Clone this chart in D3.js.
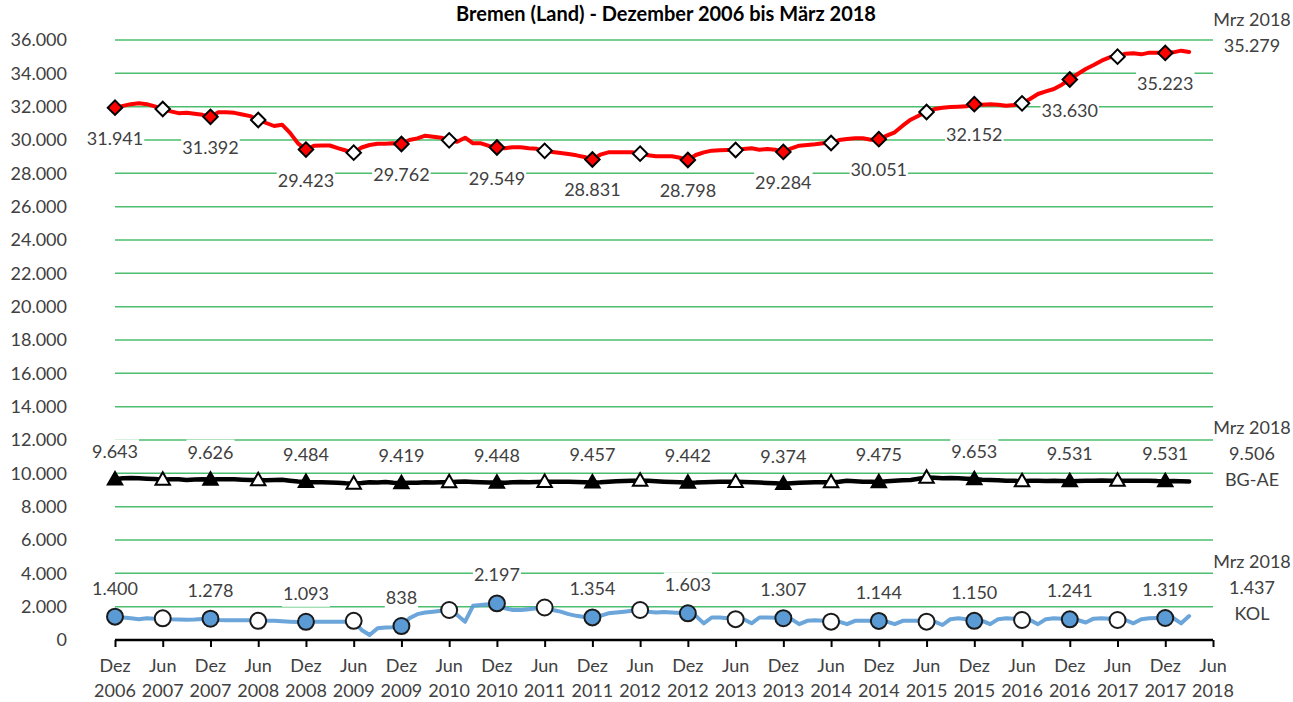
<!DOCTYPE html>
<html>
<head>
<meta charset="utf-8">
<script src="https://cdn.jsdelivr.net/npm/d3@7/dist/d3.min.js"></script>
<style>
  body { margin: 0; background: #fff; }
  text { font-family: Lato, "Liberation Sans", sans-serif; }
</style>
</head>
<body>
<script>
var title = 'Bremen (Land) - Dezember 2006 bis März 2018';
var endDate = 'Mrz 2018';
var yTicks = [0, 2000, 4000, 6000, 8000, 10000, 12000, 14000, 16000, 18000, 20000,
  22000, 24000, 26000, 28000, 30000, 32000, 34000, 36000];
var tickMonths = ['Dez', 'Jun', 'Dez', 'Jun', 'Dez', 'Jun', 'Dez', 'Jun', 'Dez', 'Jun', 'Dez', 'Jun',
  'Dez', 'Jun', 'Dez', 'Jun', 'Dez', 'Jun', 'Dez', 'Jun', 'Dez', 'Jun', 'Dez', 'Jun'];
var tickYears = ['2006', '2007', '2007', '2008', '2008', '2009', '2009', '2010', '2010', '2011', '2011', '2012',
  '2012', '2013', '2013', '2014', '2014', '2015', '2015', '2016', '2016', '2017', '2017', '2018'];

// monthly values, Dez 2006 .. Mrz 2018
var bremen = [
  31941, 32050, 32150, 32200, 32150, 32020, 31860, 31720, 31610, 31630, 31570, 31510,
  31392, 31670, 31670, 31630, 31530, 31430, 31200, 31020, 30840, 30920, 30430, 29800,
  29423, 29650, 29670, 29670, 29510, 29370, 29240, 29550, 29700, 29770, 29770, 29800,
  29762, 30000, 30100, 30260, 30200, 30140, 29980, 29900, 30140, 29800, 29800, 29650,
  29549, 29510, 29570, 29570, 29510, 29470, 29350, 29280, 29220, 29160, 29080, 28980,
  28831, 29120, 29260, 29260, 29260, 29260, 29180, 29080, 29020, 29020, 29020, 28940,
  28798, 29100, 29260, 29360, 29380, 29400, 29400, 29460, 29500, 29420, 29460, 29420,
  29284, 29500, 29660, 29700, 29740, 29800, 29820, 30000, 30060, 30100, 30100, 30020,
  30051, 30260, 30460, 30860, 31220, 31460, 31680, 31860, 31940, 31980, 32000, 32020,
  32152, 32120, 32140, 32120, 32060, 32100, 32200, 32460, 32760, 32920, 33060, 33320,
  33630, 33960, 34260, 34500, 34760, 34960, 35000, 35180, 35200, 35140, 35240, 35240,
  35223, 35260, 35360, 35279
];
var bgae = [
  9643, 9700, 9720, 9710, 9680, 9660, 9620, 9640, 9650, 9600, 9630, 9650,
  9626, 9640, 9650, 9640, 9620, 9600, 9600, 9590, 9600, 9610, 9560, 9510,
  9484, 9470, 9460, 9450, 9430, 9400, 9390, 9420, 9470, 9450, 9480, 9440,
  9419, 9430, 9440, 9460, 9450, 9470, 9470, 9490, 9510, 9480, 9460, 9450,
  9448, 9440, 9460, 9480, 9470, 9480, 9490, 9500, 9490, 9500, 9480, 9470,
  9457, 9470, 9500, 9520, 9540, 9560, 9560, 9550, 9530, 9500, 9480, 9460,
  9442, 9450, 9470, 9480, 9490, 9490, 9490, 9480, 9470, 9450, 9420, 9400,
  9374, 9400, 9430, 9450, 9460, 9470, 9470, 9500, 9550, 9520, 9500, 9490,
  9475, 9520, 9560, 9580, 9600, 9680, 9750, 9730, 9700, 9720, 9700, 9680,
  9653, 9620, 9600, 9580, 9560, 9550, 9530, 9550, 9560, 9540, 9550, 9540,
  9531, 9540, 9550, 9560, 9570, 9560, 9560, 9550, 9560, 9550, 9560, 9540,
  9531, 9540, 9530, 9506
];
var kol = [
  1400, 1350, 1300, 1250, 1300, 1280, 1300, 1250, 1230, 1220, 1230, 1260,
  1278, 1200, 1180, 1180, 1180, 1180, 1150, 1150, 1150, 1120, 1100, 1080,
  1093, 1100, 1100, 1100, 1100, 1100, 1150, 600, 300, 700, 750, 760,
  838, 1300, 1550, 1650, 1700, 1750, 1800, 1500, 1100, 2050, 2100, 2150,
  2197, 1900, 1800, 1800, 1850, 1900, 1950, 1800, 1700, 1550, 1450, 1380,
  1354, 1450, 1600, 1650, 1700, 1750, 1800, 1700, 1650, 1680, 1650, 1620,
  1603, 1450, 1000, 1350, 1350, 1300, 1250, 1250, 1000, 1350, 1350, 1340,
  1307, 1250, 950, 1150, 1180, 1150, 1100, 1100, 950, 1150, 1150, 1150,
  1144, 1100, 950, 1150, 1150, 1150, 1100, 1100, 900, 1250, 1300, 1250,
  1150, 1150, 950, 1250, 1300, 1280, 1200, 1200, 950, 1250, 1300, 1280,
  1241, 1200, 1050, 1280, 1300, 1280, 1200, 1200, 1000, 1250, 1300, 1320,
  1319, 1320, 1000, 1437
];

var W = 1293, H = 702;
var svg = d3.select('body').append('svg')
  .attr('width', W)
  .attr('height', H);

var x = d3.scaleLinear().domain([0, 138]).range([115, 1213]);
var y = d3.scaleLinear().domain([0, 36000]).range([640, 40]);

var de = d3.formatLocale({decimal: ',', thousands: '.', grouping: [3], currency: ['', ' €']});
var fmt = de.format(',d');

var grid = '#4cbe6e';
var textCol = '#404040';

// title
svg.append('text')
  .attr('x', 666)
  .attr('y', 21)
  .attr('text-anchor', 'middle')
  .attr('font-size', 20)
  .attr('font-weight', 'bold')
  .attr('fill', '#000')
  .text(title);

// grid lines
svg.append('g').selectAll('line')
  .data(yTicks.filter(function(d) { return d > 0; }))
  .enter().append('line')
  .attr('x1', x(0)).attr('x2', x(138))
  .attr('y1', function(d) { return y(d); })
  .attr('y2', function(d) { return y(d); })
  .attr('stroke', grid)
  .attr('stroke-width', 1.5);

// y axis labels
var yAxis = d3.axisLeft(y).tickValues(yTicks).tickFormat(fmt).tickSize(0).tickPadding(0);
var gy = svg.append('g').attr('transform', 'translate(67,0)').call(yAxis);
gy.select('.domain').remove();
gy.selectAll('text')
  .attr('font-size', 18)
  .attr('font-family', 'Lato, sans-serif')
  .attr('fill', textCol);

// x axis
var tickIdx = tickMonths.map(function(d, i) { return i * 6; });
var xAxis = d3.axisBottom(x).tickValues(tickIdx).tickSize(7).tickFormat('');
var gx = svg.append('g').attr('transform', 'translate(0,640)').call(xAxis);
gx.select('.domain').attr('stroke', '#000').attr('stroke-width', 2.5)
  .attr('d', 'M' + x(0) + ',0H' + x(138));
gx.selectAll('.tick line').attr('stroke', '#000').attr('stroke-width', 2);

var xl = svg.append('g').selectAll('text')
  .data(tickIdx)
  .enter();
xl.append('text')
  .attr('x', function(d) { return x(d); })
  .attr('y', 672)
  .attr('text-anchor', 'middle')
  .attr('font-size', 18)
  .attr('fill', textCol)
  .text(function(d, i) { return tickMonths[i]; });
xl.append('text')
  .attr('x', function(d) { return x(d); })
  .attr('y', 697)
  .attr('text-anchor', 'middle')
  .attr('font-size', 18)
  .attr('fill', textCol)
  .text(function(d, i) { return tickYears[i]; });

// series
var series = [
  {name: '', data: bremen, color: '#ff0000', width: 4, sym: 'diamond', fill: '#ff0000', lab: 31, endOff: 6},
  {name: 'BG-AE', data: bgae, color: '#000000', width: 4.5, sym: 'triangle', fill: '#000000', lab: -27, endOff: 2},
  {name: 'KOL', data: kol, color: '#5b9bd5', width: 4, sym: 'circle', fill: '#5b9bd5', lab: -28, endOff: 2}
];

var line = d3.line()
  .x(function(d, i) { return x(i); })
  .y(function(d) { return y(d); });

var labelLayer = [];

series.forEach(function(s) {
  var g = svg.append('g');
  g.append('path')
    .attr('d', line(s.data))
    .attr('fill', 'none')
    .attr('stroke', s.color)
    .attr('stroke-width', s.width)
    .attr('stroke-linejoin', 'round')
    .attr('stroke-linecap', 'round')
    .attr('opacity', s.sym === 'circle' ? 0.9 : 1);

  var pts = s.data.map(function(v, i) { return {i: i, v: v}; })
    .filter(function(d) { return d.i % 6 === 0; });

  var symType = s.sym === 'diamond' ? d3.symbolSquare
    : s.sym === 'triangle' ? d3.symbolTriangle : d3.symbolCircle;
  var symSize = s.sym === 'diamond' ? 105 : s.sym === 'triangle' ? 90 : 200;
  var rot = s.sym === 'diamond' ? 45 : 0;

  g.selectAll('path.m')
    .data(pts)
    .enter().append('path')
    .attr('class', 'm')
    .attr('d', d3.symbol().type(symType).size(symSize))
    .attr('transform', function(d) {
      return 'translate(' + x(d.i) + ',' + (y(d.v) + (s.sym === 'triangle' ? 1 : 0)) + ') rotate(' + rot + ')';
    })
    .attr('fill', function(d) { return d.i % 12 === 0 ? s.fill : '#fff'; })
    .attr('stroke', s.sym === 'circle' ? '#1a1a1a' : '#000')
    .attr('stroke-width', 2);

  pts.filter(function(d) { return d.i % 12 === 0; }).forEach(function(d) {
    labelLayer.push({x: x(d.i), y: y(d.v) + s.lab, t: fmt(d.v)});
  });

  var last = s.data.length - 1;
  var lines = [endDate, fmt(s.data[last])];
  if (s.name) lines.push(s.name);
  var by = y(s.data[last]) - s.endOff;
  lines.forEach(function(t, k) {
    labelLayer.push({x: 1252, y: by - (lines.length - 1 - k) * 26, t: t, noBox: true});
  });
});

// data labels with white boxes
var lg = svg.append('g');
labelLayer.forEach(function(d) {
  var box = lg.append('rect');
  var t = lg.append('text')
    .attr('x', d.x)
    .attr('y', d.y + 6)
    .attr('text-anchor', 'middle')
    .attr('font-size', 18)
    .attr('fill', textCol)
    .text(d.t);
  if (d.noBox) { box.remove(); return; }
  var bb = t.node().getBBox();
  box.attr('x', bb.x - 1).attr('width', bb.width + 2)
    .attr('y', d.y - 13).attr('height', 26)
    .attr('fill', '#fff');
});
</script>
</body>
</html>
